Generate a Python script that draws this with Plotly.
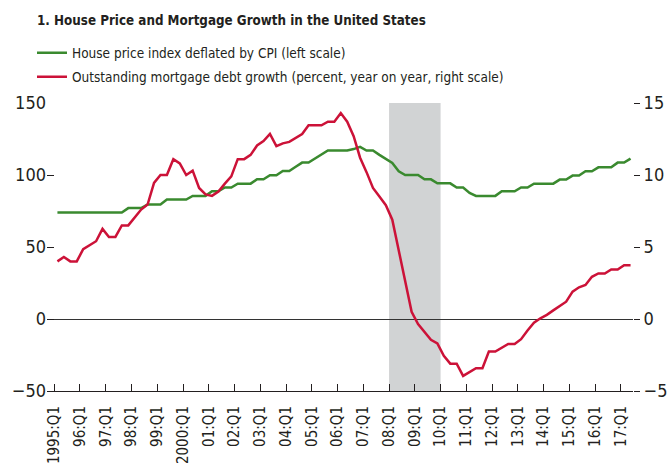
import plotly.graph_objects as go

# Quarterly data, 1995:Q1 .. 2017:Q2
house_price = [
    74, 74, 74, 74,            # 1995
    74, 74, 74, 74,            # 1996
    74, 74, 74, 77,            # 1997
    77, 77, 79.5, 79.5,        # 1998
    79.5, 83, 83, 83,          # 1999
    83, 85.5, 85.5, 85.5,      # 2000
    88.7, 88.7, 91.3, 91.3,    # 2001
    94, 94, 94, 97,            # 2002
    97, 99.8, 99.8, 102.8,     # 2003
    102.8, 105.7, 108.6, 108.6,  # 2004
    111.4, 114.2, 117, 117,    # 2005
    117, 117, 118, 119.5,      # 2006
    117, 117, 114, 111,        # 2007
    108.3, 102.6, 100, 100,    # 2008
    100, 97, 97, 94.2,         # 2009
    94.2, 94.2, 91.3, 91.3,    # 2010
    87.5, 85.5, 85.5, 85.5,    # 2011
    85.5, 88.7, 88.7, 88.7,    # 2012
    91.3, 91.3, 94, 94,        # 2013
    94, 94, 96.8, 96.8,        # 2014
    99.6, 99.6, 102.6, 102.6,  # 2015
    105.3, 105.3, 105.3, 108.6,  # 2016
    108.6, 111.4,              # 2017
]

mortgage_growth = [
    4.0, 4.3, 4.0, 4.0,        # 1995
    4.85, 5.1, 5.4, 6.26,      # 1996
    5.7, 5.7, 6.5, 6.5,        # 1997
    7.05, 7.6, 7.95, 9.45,     # 1998
    10.0, 10.0, 11.1, 10.8,    # 1999
    10.0, 10.3, 9.1, 8.65,     # 2000
    8.55, 8.85, 9.4, 9.9,      # 2001
    11.1, 11.1, 11.4, 12.05,   # 2002
    12.35, 12.85, 12.0, 12.2,  # 2003
    12.3, 12.6, 12.85, 13.45,  # 2004
    13.45, 13.45, 13.7, 13.7,  # 2005
    14.3, 13.7, 12.7, 11.2,    # 2006
    10.2, 9.1, 8.5, 7.9,       # 2007
    6.9, 4.7, 2.55, 0.5,       # 2008
    -0.35, -0.9, -1.45, -1.7,  # 2009
    -2.56, -3.1, -3.1, -3.95,  # 2010
    -3.7, -3.42, -3.42, -2.26,  # 2011
    -2.26, -2.0, -1.73, -1.73,  # 2012
    -1.4, -0.8, -0.25, 0.05,   # 2013
    0.29, 0.6, 0.9, 1.2,       # 2014
    1.9, 2.2, 2.36, 2.93,      # 2015
    3.16, 3.16, 3.44, 3.44,    # 2016
    3.74, 3.74,                # 2017
]

tick_years = list(range(1995, 2018))
tick_labels = ["1995:Q1", "96:Q1", "97:Q1", "98:Q1", "99:Q1", "2000:Q1",
               "01:Q1", "02:Q1", "03:Q1", "04:Q1", "05:Q1", "06:Q1", "07:Q1",
               "08:Q1", "09:Q1", "10:Q1", "11:Q1", "12:Q1", "13:Q1", "14:Q1",
               "15:Q1", "16:Q1", "17:Q1"]
left_ticks = [-50, 0, 50, 100, 150]
right_ticks = [-5, 0, 5, 10, 15]
recession = (2008.0, 2010.0)

# quarter centres
xs = [1995 + i / 4 + 0.125 for i in range(len(house_price))]

FONT = "Liberation Sans Narrow, DejaVu Sans Condensed, Arial Narrow, sans-serif"
INK = "#231f20"

fig = go.Figure()
fig.add_trace(go.Scatter(
    x=xs, y=house_price, mode="lines", legend="legend",
    name="House price index deflated by CPI (left scale)",
    line=dict(color="#3a8a2f", width=2.5),
))
fig.add_trace(go.Scatter(
    x=xs, y=mortgage_growth, mode="lines", yaxis="y2", legend="legend2",
    name="Outstanding mortgage debt growth (percent, year on year, right scale)",
    line=dict(color="#cc1238", width=2.5),
))

fig.add_shape(type="rect", xref="x", yref="paper",
              x0=recession[0], x1=recession[1], y0=0, y1=1,
              fillcolor="#d1d3d4", line=dict(width=0), layer="below")

leg_common = dict(xanchor="left", yanchor="middle",
                  bgcolor="rgba(0,0,0,0)", font=dict(size=13.5, color=INK),
                  itemwidth=30, borderwidth=0)

fig.update_layout(
    width=667, height=465, autosize=False,
    margin=dict(l=47, r=34, t=103, b=74, pad=0, autoexpand=False),
    paper_bgcolor="white", plot_bgcolor="white",
    font=dict(family=FONT, color=INK, size=18),
    title=dict(
        text="<b>1. House Price and Mortgage Growth in the United States</b>",
        xref="container", x=37 / 667, xanchor="left",
        yref="container", y=1 - 20 / 465, yanchor="middle",
        font=dict(family=FONT, size=13.3, color=INK),
    ),
    legend=dict(x=-0.0256, y=1 + (103 - 53) / 288, **leg_common),
    legend2=dict(x=-0.0256, y=1 + (103 - 77) / 288, **leg_common),
    showlegend=True,
    xaxis=dict(
        range=[1994.72, 2017.47], automargin=False,
        tickmode="array", tickvals=tick_years, ticktext=tick_labels,
        tickangle=-90, ticks="inside", ticklen=7, tickcolor=INK,
        ticklabelstandoff=8,
        showline=True, linecolor=INK, linewidth=1,
        showgrid=False, zeroline=False,
        tickfont=dict(size=15, color=INK),
    ),
    yaxis=dict(
        range=[-50, 150], tickmode="array", tickvals=left_ticks,
        automargin=False,
        ticks="inside", ticklen=7, tickcolor=INK,
        showline=False, showgrid=False,
        zeroline=True, zerolinecolor="#333333", zerolinewidth=1,
        tickfont=dict(size=18, color=INK),
    ),
    yaxis2=dict(
        range=[-5, 15], tickmode="array", tickvals=right_ticks,
        overlaying="y", side="right", automargin=False,
        ticks="outside", ticklen=6, tickcolor=INK,
        showline=False, showgrid=False, zeroline=False,
        tickfont=dict(size=18, color=INK),
    ),
)

fig.write_html(
    "out.html",
    config={"displayModeBar": False},
    post_script="document.body.style.margin='0';document.body.style.padding='0';",
)
